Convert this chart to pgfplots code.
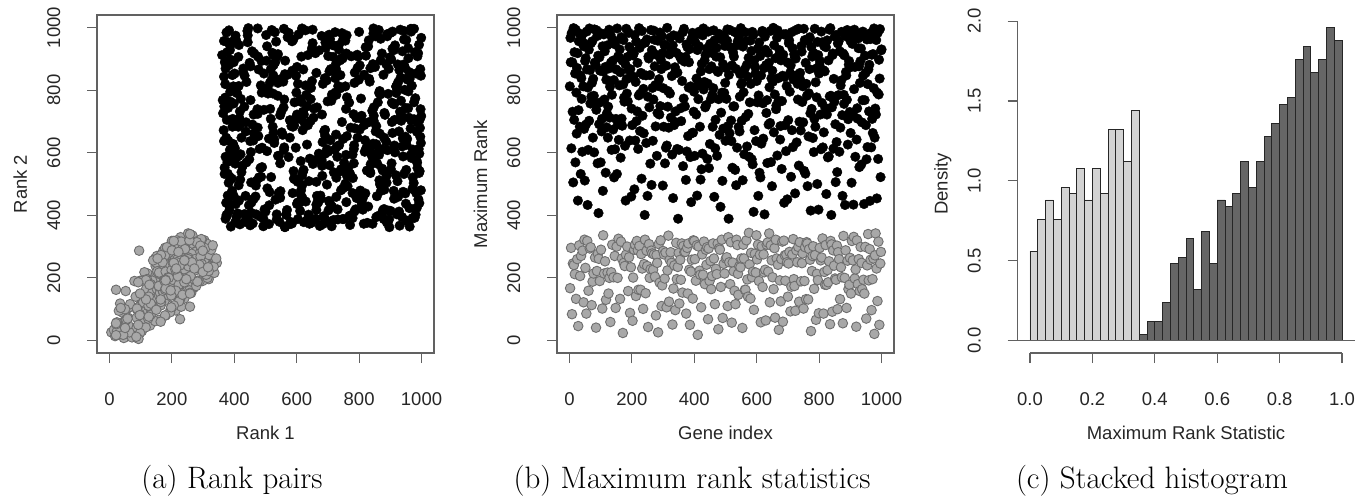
\documentclass[border=0pt]{standalone}
\usepackage{fontspec}
\usepackage{pgfplots}
\usepackage{pgfplotstable}
\pgfplotsset{compat=1.18}
\newfontfamily\rsans{Liberation Sans}
\newcommand\axfont{\rsans\fontsize{18.5}{21}\selectfont}
\newcommand\capfont{\fontsize{31}{36}\selectfont}
\definecolor{axgray}{gray}{0.38}
\definecolor{nullfill}{HTML}{A8A8A8}
\definecolor{nulledge}{HTML}{6E6E6E}
\definecolor{histlight}{HTML}{D3D3D3}
\definecolor{histdark}{HTML}{666666}

% rank of each gene (row = gene index) in the two lists
\pgfplotstableread[row sep=\\]{
r1 r2\\
812 455\\ 155 167\\ 967 703\\ 531 889\\ 296 254\\ 402 614\\ 745 982\\ 84 22\\ 889 377\\ 620 731\\
231 246\\ 454 505\\ 998 846\\ 212 241\\ 705 560\\ 377 921\\ 212 96\\ 853 668\\ 569 417\\ 932 993\\
117 133\\ 488 792\\ 661 389\\ 795 871\\ 210 260\\ 918 528\\ 415 447\\ 46 8\\ 736 624\\ 585 956\\
304 293\\ 981 402\\ 523 683\\ 160 206\\ 847 745\\ 369 532\\ 270 168\\ 690 838\\ 772 399\\ 443 975\\
603 507\\ 275 287\\ 952 625\\ 397 812\\ 122 82\\ 829 940\\ 676 463\\ 322 255\\ 511 372\\ 893 788\\
218 232\\ 744 902\\ 458 690\\ 48 86\\ 987 551\\ 621 866\\ 318 196\\ 385 433\\ 808 718\\ 559 609\\
159 147\\ 929 864\\ 702 416\\ 475 997\\ 294 260\\ 864 593\\ 398 757\\ 206 298\\ 651 950\\ 779 471\\
99 113\\ 540 823\\ 956 381\\ 142 188\\ 423 648\\ 836 535\\ 122 214\\ 715 782\\ 601 436\\ 994 705\\
370 888\\ 265 252\\ 758 593\\ 880 420\\ 19 41\\ 495 737\\ 628 991\\ 222 128\\ 973 484\\ 547 566\\
268 277\\ 822 910\\ 407 395\\ 219 261\\ 691 673\\ 905 760\\ 98 190\\ 586 862\\ 761 526\\ 439 569\\
280 290\\ 846 981\\ 668 447\\ 517 708\\ 58 102\\ 940 646\\ 393 478\\ 262 336\\ 723 859\\ 978 392\\
200 214\\ 612 770\\ 457 924\\ 253 199\\ 874 611\\ 536 403\\ 130 48\\ 799 833\\ 681 558\\ 364 726\\
915 943\\ 217 201\\ 578 648\\ 747 388\\ 150 108\\ 429 869\\ 993 597\\ 115 200\\ 654 712\\ 811 459\\
47 59\\ 502 976\\ 888 527\\ 218 172\\ 386 609\\ 727 785\\ 306 250\\ 961 423\\ 563 894\\ 674 366\\
186 202\\ 832 698\\ 479 521\\ 947 872\\ 270 228\\ 611 414\\ 380 953\\ 104 30\\ 708 640\\ 866 797\\
292 300\\ 532 450\\ 997 739\\ 200 146\\ 419 691\\ 775 908\\ 325 232\\ 641 373\\ 904 566\\ 485 815\\
735 930\\ 121 133\\ 857 461\\ 405 584\\ 272 316\\ 969 814\\ 596 709\\ 262 152\\ 686 397\\ 503 894\\
18 24\\ 818 603\\ 951 960\\ 248 205\\ 371 776\\ 763 493\\ 148 238\\ 622 545\\ 883 721\\ 447 432\\
258 274\\ 996 651\\ 548 835\\ 789 419\\ 300 276\\ 413 906\\ 699 764\\ 158 66\\ 865 512\\ 574 983\\
266 246\\ 938 394\\ 461 639\\ 44 88\\ 726 867\\ 842 587\\ 162 234\\ 389 460\\ 655 741\\ 925 825\\
592 688\\ 51 63\\ 911 478\\ 201 159\\ 367 843\\ 759 917\\ 290 190\\ 483 396\\ 976 761\\ 306 297\\
639 509\\ 826 376\\ 90 142\\ 534 955\\ 701 603\\ 200 318\\ 418 732\\ 887 883\\ 288 277\\ 612 468\\
162 116\\ 783 566\\ 445 998\\ 210 302\\ 935 702\\ 669 441\\ 508 789\\ 21 162\\ 855 627\\ 229 276\\
392 517\\ 989 918\\ 230 108\\ 718 385\\ 571 849\\ 87 101\\ 804 479\\ 463 662\\ 190 244\\ 951 545\\
377 401\\ 322 238\\ 692 952\\ 139 151\\ 847 718\\ 528 631\\ 287 261\\ 962 836\\ 238 160\\ 436 462\\
779 594\\ 43 35\\ 615 907\\ 901 414\\ 250 308\\ 558 745\\ 200 106\\ 740 848\\ 403 565\\ 220 228\\
863 992\\ 95 287\\ 497 419\\ 928 668\\ 278 232\\ 646 807\\ 381 638\\ 226 68\\ 770 527\\ 990 451\\
275 267\\ 589 961\\ 452 876\\ 146 204\\ 816 688\\ 684 372\\ 80 20\\ 913 756\\ 259 273\\ 540 590\\
248 206\\ 727 459\\ 958 902\\ 6 26\\ 414 813\\ 298 308\\ 835 540\\ 601 722\\ 185 137\\ 375 984\\
749 644\\ 232 320\\ 896 387\\ 517 867\\ 110 96\\ 972 610\\ 176 126\\ 660 918\\ 469 495\\ 172 286\\
806 773\\ 394 683\\ 275 261\\ 944 532\\ 148 198\\ 566 403\\ 735 944\\ 227 281\\ 489 616\\ 878 849\\
90 106\\ 623 378\\ 999 967\\ 224 172\\ 432 747\\ 797 461\\ 266 335\\ 680 576\\ 124 110\\ 914 705\\
258 108\\ 524 789\\ 968 583\\ 282 236\\ 712 365\\ 386 928\\ 150 248\\ 845 629\\ 594 515\\ 41 51\\
943 882\\ 455 441\\ 118 166\\ 760 975\\ 636 688\\ 240 134\\ 401 853\\ 873 404\\ 97 85\\ 551 732\\
697 498\\ 312 262\\ 919 791\\ 196 100\\ 481 612\\ 786 856\\ 222 235\\ 372 389\\ 852 972\\ 226 280\\
609 440\\ 34 118\\ 965 677\\ 537 907\\ 258 242\\ 742 547\\ 194 148\\ 408 701\\ 897 362\\ 310 250\\
649 829\\ 137 153\\ 985 424\\ 426 557\\ 302 255\\ 773 680\\ 559 996\\ 282 188\\ 891 608\\ 368 748\\
275 283\\ 717 906\\ 513 474\\ 86 42\\ 946 801\\ 604 388\\ 178 296\\ 824 937\\ 150 136\\ 477 653\\
264 310\\ 808 442\\ 398 889\\ 226 130\\ 931 731\\ 44 50\\ 574 586\\ 756 812\\ 220 170\\ 442 399\\
869 964\\ 258 160\\ 663 507\\ 983 853\\ 120 134\\ 526 664\\ 304 320\\ 731 419\\ 387 795\\ 226 318\\
590 541\\ 260 248\\ 953 383\\ 704 977\\ 137 191\\ 462 722\\ 837 599\\ 304 218\\ 379 463\\ 912 928\\
18 14\\ 628 815\\ 771 369\\ 242 300\\ 505 940\\ 987 696\\ 223 125\\ 683 634\\ 196 210\\ 419 514\\
860 761\\ 62 106\\ 547 456\\ 726 884\\ 191 275\\ 393 597\\ 975 503\\ 210 194\\ 617 997\\ 802 674\\
278 316\\ 439 826\\ 895 415\\ 180 80\\ 665 745\\ 361 912\\ 290 280\\ 752 568\\ 194 242\\ 933 840\\
298 190\\ 580 379\\ 821 694\\ 54 68\\ 967 987\\ 294 252\\ 484 551\\ 709 867\\ 96 190\\ 396 628\\
948 470\\ 242 254\\ 645 771\\ 152 164\\ 876 543\\ 522 919\\ 206 112\\ 785 412\\ 413 683\\ 297 310\\
740 806\\ 991 612\\ 210 262\\ 459 374\\ 831 959\\ 116 42\\ 614 480\\ 376 705\\ 229 217\\ 907 663\\
693 935\\ 162 212\\ 543 590\\ 861 398\\ 310 212\\ 428 858\\ 28 36\\ 771 533\\ 980 774\\ 241 295\\
555 657\\ 290 192\\ 899 905\\ 385 427\\ 159 171\\ 728 619\\ 962 364\\ 296 322\\ 599 792\\ 471 510\\
72 10\\ 844 883\\ 677 453\\ 231 245\\ 404 974\\ 791 711\\ 158 214\\ 941 588\\ 514 823\\ 638 402\\
164 262\\ 870 478\\ 421 772\\ 266 250\\ 756 958\\ 994 541\\ 110 70\\ 583 685\\ 228 330\\ 389 364\\
816 849\\ 250 240\\ 662 577\\ 520 992\\ 132 180\\ 937 719\\ 314 200\\ 703 446\\ 451 637\\ 45 57\\
802 879\\ 369 552\\ 249 203\\ 921 403\\ 633 748\\ 153 221\\ 476 907\\ 748 486\\ 159 143\\ 985 667\\
545 379\\ 66 116\\ 868 786\\ 414 496\\ 322 226\\ 717 943\\ 597 616\\ 305 291\\ 956 833\\ 213 163\\
146 62\\ 682 526\\ 890 972\\ 221 237\\ 437 668\\ 779 391\\ 562 851\\ 234 204\\ 998 480\\ 371 819\\
170 262\\ 645 702\\ 823 615\\ 36 40\\ 512 432\\ 939 924\\ 306 256\\ 725 793\\ 262 172\\ 420 595\\
866 661\\ 162 152\\ 530 985\\ 162 112\\ 714 427\\ 957 742\\ 215 320\\ 383 880\\ 620 539\\ 195 183\\
843 373\\ 84 140\\ 475 724\\ 903 898\\ 344 248\\ 587 471\\ 243 229\\ 761 653\\ 399 958\\ 134 90\\
684 820\\ 190 280\\ 925 459\\ 448 579\\ 202 186\\ 800 986\\ 563 363\\ 220 182\\ 976 707\\ 411 406\\
98 24\\ 739 895\\ 619 672\\ 263 277\\ 874 549\\ 495 853\\ 159 217\\ 367 637\\ 336 216\\ 829 428\\
243 259\\ 593 761\\ 907 932\\ 306 264\\ 462 452\\ 783 612\\ 80 190\\ 952 837\\ 536 387\\ 274 260\\
701 909\\ 387 521\\ 24 58\\ 847 701\\ 629 444\\ 235 301\\ 984 576\\ 442 989\\ 171 157\\ 758 740\\
511 645\\ 275 225\\ 836 870\\ 112 218\\ 403 378\\ 971 485\\ 226 214\\ 650 929\\ 64 26\\ 880 648\\
727 520\\ 208 306\\ 363 768\\ 567 401\\ 313 309\\ 919 811\\ 180 220\\ 690 596\\ 449 887\\ 252 342\\
809 434\\ 108 122\\ 625 695\\ 944 989\\ 304 256\\ 378 570\\ 724 838\\ 256 160\\ 493 365\\ 862 604\\
202 194\\ 557 827\\ 999 717\\ 164 112\\ 665 462\\ 415 944\\ 185 295\\ 786 678\\ 59 73\\ 902 547\\
296 322\\ 474 739\\ 751 388\\ 146 262\\ 967 853\\ 591 517\\ 383 991\\ 242 226\\ 838 620\\ 711 766\\
14 34\\ 526 912\\ 928 412\\ 108 192\\ 642 581\\ 397 685\\ 125 111\\ 869 895\\ 218 260\\ 548 477\\
765 551\\ 230 316\\ 433 846\\ 60 50\\ 913 623\\ 606 978\\ 319 273\\ 374 440\\ 842 734\\ 178 272\\
688 394\\ 175 191\\ 979 921\\ 505 605\\ 274 224\\ 733 813\\ 215 250\\ 451 368\\ 888 504\\ 126 140\\
578 704\\ 246 200\\ 950 437\\ 406 959\\ 283 191\\ 795 648\\ 663 855\\ 93 5\\ 879 388\\ 486 523\\
172 156\\ 723 985\\ 366 672\\ 275 190\\ 934 766\\ 618 456\\ 294 324\\ 834 827\\ 120 196\\ 540 915\\
158 174\\ 905 698\\ 470 403\\ 30 95\\ 747 901\\ 992 535\\ 288 230\\ 633 626\\ 394 848\\ 170 250\\
820 470\\ 560 770\\ 299 289\\ 966 996\\ 427 559\\ 124 70\\ 699 381\\ 314 222\\ 855 685\\ 519 832\\
671 597\\ 177 189\\ 387 941\\ 923 509\\ 203 247\\ 615 762\\ 278 174\\ 812 418\\ 438 697\\ 88 102\\
996 867\\ 542 471\\ 190 144\\ 748 960\\ 184 298\\ 379 533\\ 887 635\\ 132 118\\ 604 820\\ 280 314\\
782 723\\ 310 210\\ 493 390\\ 957 934\\ 117 131\\ 652 564\\ 409 790\\ 292 268\\ 867 499\\ 571 969\\
258 152\\ 726 658\\ 384 415\\ 24 30\\ 938 620\\ 515 740\\ 222 178\\ 797 907\\ 152 270\\ 647 376\\
301 289\\ 919 812\\ 453 602\\ 165 123\\ 708 436\\ 976 996\\ 165 273\\ 588 683\\ 825 543\\ 54 66\\
372 869\\ 761 777\\ 213 159\\ 500 412\\ 954 644\\ 117 193\\ 636 912\\ 418 371\\ 87 73\\ 853 590\\
526 880\\ 296 244\\ 893 384\\ 681 722\\ 140 256\\ 398 611\\ 987 908\\ 253 265\\ 759 442\\ 443 953\\
326 290\\ 617 527\\ 864 791\\ 86 12\\ 552 665\\ 941 475\\ 219 205\\ 705 860\\ 128 178\\ 380 743\\
305 225\\ 821 937\\ 468 460\\ 178 162\\ 722 609\\ 959 712\\ 199 225\\ 585 374\\ 92 186\\ 895 868\\
412 588\\ 253 237\\ 651 993\\ 780 519\\ 22 52\\ 998 631\\ 206 318\\ 539 782\\ 375 401\\ 307 295\\
745 698\\ 92 50\\ 912 453\\ 464 917\\ 200 288\\ 613 573\\ 832 836\\ 225 239\\ 388 763\\ 971 391\\
198 144\\ 691 654\\ 506 486\\ 194 90\\ 857 976\\ 634 385\\ 291 303\\ 423 538\\ 50 100\\ 949 743\\
282 188\\ 784 624\\ 367 957\\ 252 260\\ 603 441\\ 924 882\\ 132 82\\ 475 680\\ 815 373\\ 234 146\\
696 831\\ 986 568\\ 188 202\\ 547 720\\ 398 462\\ 21 55\\ 873 917\\ 334 236\\ 631 785\\ 756 501\\
911 755\\ 190 200\\ 433 404\\ 680 973\\ 288 242\\ 858 565\\ 525 847\\ 36 104\\ 769 398\\ 992 945\\
243 255\\ 396 626\\ 614 707\\ 164 131\\ 881 482\\ 487 893\\ 178 80\\ 730 587\\ 264 250\\ 958 796\\
663 417\\ 98 150\\ 851 874\\ 382 504\\ 318 222\\ 948 651\\ 574 982\\ 240 256\\ 719 537\\ 434 379\\
331 304\\ 803 710\\ 993 439\\ 198 106\\ 601 874\\ 372 587\\ 211 227\\ 890 979\\ 44 18\\ 528 642\\
256 320\\ 742 480\\ 417 709\\ 180 166\\ 965 592\\ 649 934\\ 260 206\\ 876 416\\ 489 554\\ 52 158\\
785 823\\ 371 892\\ 299 287\\ 933 714\\ 562 362\\ 206 248\\ 697 611\\ 164 60\\ 452 768\\ 907 987\\
598 846\\ 180 194\\ 972 521\\ 405 436\\ 150 98\\ 768 760\\ 533 910\\ 299 219\\ 855 394\\ 688 668\\
58 70\\ 381 579\\ 944 962\\ 240 186\\ 618 497\\ 819 640\\ 258 340\\ 478 866\\ 180 192\\ 732 387\\
881 727\\ 242 292\\ 446 383\\ 707 963\\ 258 150\\ 983 471\\ 560 617\\ 97 81\\ 794 913\\ 395 708\\
196 160\\ 663 434\\ 915 601\\ 154 262\\ 507 806\\ 846 997\\ 21 17\\ 374 648\\ 272 230\\ 741 541\\
342 262\\ 623 722\\ 960 858\\ 214 230\\ 454 408\\ 792 455\\ 126 76\\ 901 983\\ 580 372\\ 316 234\\
713 786\\ 389 897\\ 50 40\\ 837 563\\ 995 679\\ 246 196\\ 518 522\\ 221 283\\ 672 927\\ 930 367\\
}\ranks

\pgfplotsset{
  rpanel/.style={
    scale only axis, width=337pt, height=338pt, anchor=south west,
    axis line style={axgray, line width=1.1pt},
    tick style={axgray, line width=1.1pt},
    major tick length=10pt, tick align=outside, tick pos=left,
    tick label style={font=\axfont, text=black!85},
    label style={font=\axfont, text=black!85},
    xticklabel style={anchor=base, yshift=-42pt},
    yticklabel style={xshift=-27pt, rotate=90, anchor=base},
    xlabel style={at={(axis description cs:0.5,0)}, anchor=base, yshift=-86pt},
    ylabel style={at={([xshift=-70pt]axis description cs:0,0.5)}, anchor=base},
  },
  rankaxis/.style={
    rpanel, xmin=-40, xmax=1040, ymin=-40, ymax=1040,
    xtick={0,200,400,600,800,1000}, xticklabels={0,200,400,600,800,1000},
    ytick={0,200,400,600,800,1000}, yticklabels={0,200,400,600,800,1000},
  },
  nullpts/.style={only marks, mark=*, mark size=4.8pt,
    mark options={draw=nulledge, fill=nullfill, line width=0.9pt}},
  altpts/.style={only marks, mark=*, mark size=4.8pt,
    mark options={draw=none, fill=black}},
}

\begin{document}
\begin{tikzpicture}
\path[use as bounding box] (0,0) rectangle (1370pt,-502pt);

% (a) rank in list 1 against rank in list 2
\begin{axis}[rankaxis, at={(97pt,-353pt)}, xlabel={Rank 1}, ylabel={Rank 2}]
  \addplot[altpts] table[x=r1, y=r2, restrict y to domain=355:1100] {\ranks};
  \addplot[nullpts] table[x=r1, y=r2, restrict y to domain=-10:355] {\ranks};
\end{axis}

% (b) maximum of the two ranks for each gene
\begin{axis}[rankaxis, at={(557pt,-353pt)}, xlabel={Gene index}, ylabel={Maximum Rank}]
  \addplot[altpts] table[x expr=\coordindex+1, y expr={max(\thisrow{r1},\thisrow{r2})},
    restrict y to domain=355:1100] {\ranks};
  \addplot[nullpts] table[x expr=\coordindex+1, y expr={max(\thisrow{r1},\thisrow{r2})},
    restrict y to domain=-10:355] {\ranks};
\end{axis}

% (c) histogram of max rank / n, split at the null boundary
\begin{axis}[rpanel, at={(1017.5pt,-353pt)}, clip=false,
  xmin=-0.04, xmax=1.04, ymin=-0.0784, ymax=2.0384,
  axis x line*=bottom, axis y line*=left, axis line style={draw=none},
  xtick={0,0.2,0.4,0.6,0.8,1}, xticklabels={0.0,0.2,0.4,0.6,0.8,1.0},
  ytick={0,0.5,1,1.5,2}, yticklabels={0.0,0.5,1.0,1.5,2.0},
  xlabel={Maximum Rank Statistic}, ylabel={Density}]
  \addplot[ybar interval, fill=histlight, draw=black!85, line width=0.9pt] coordinates {
    (0,0.56) (0.025,0.76) (0.05,0.88) (0.075,0.76) (0.1,0.96) (0.125,0.92) (0.15,1.08)
    (0.175,0.88) (0.2,1.08) (0.225,0.92) (0.25,1.32) (0.275,1.32) (0.3,1.12) (0.325,1.44)
    (0.35,0)};
  \addplot[ybar interval, fill=histdark, draw=black!85, line width=0.9pt] coordinates {
    (0.35,0.04) (0.375,0.12) (0.4,0.12) (0.425,0.24) (0.45,0.48) (0.475,0.52) (0.5,0.64)
    (0.525,0.32) (0.55,0.68) (0.575,0.48) (0.6,0.88) (0.625,0.84) (0.65,0.92) (0.675,1.12)
    (0.7,0.96) (0.725,1.12) (0.75,1.28) (0.775,1.36) (0.8,1.48) (0.825,1.52) (0.85,1.76)
    (0.875,1.84) (0.9,1.68) (0.925,1.76) (0.95,1.96) (0.975,1.88) (1,0)};
  \draw[axgray, line width=1.1pt] (axis cs:-0.04,0) -- (axis cs:1.04,0);
  \draw[axgray, line width=1.1pt] (axis cs:0,-0.0784) -- (axis cs:1,-0.0784);
  \draw[axgray, line width=1.1pt] (axis cs:-0.04,0) -- (axis cs:-0.04,2);
\end{axis}

\node[anchor=base, font=\capfont] at (232pt,-488pt) {(a) Rank pairs};
\node[anchor=base, font=\capfont] at (692pt,-488pt) {(b) Maximum rank statistics};
\node[anchor=base, font=\capfont] at (1152pt,-488pt) {(c) Stacked histogram};
\end{tikzpicture}
\end{document}
